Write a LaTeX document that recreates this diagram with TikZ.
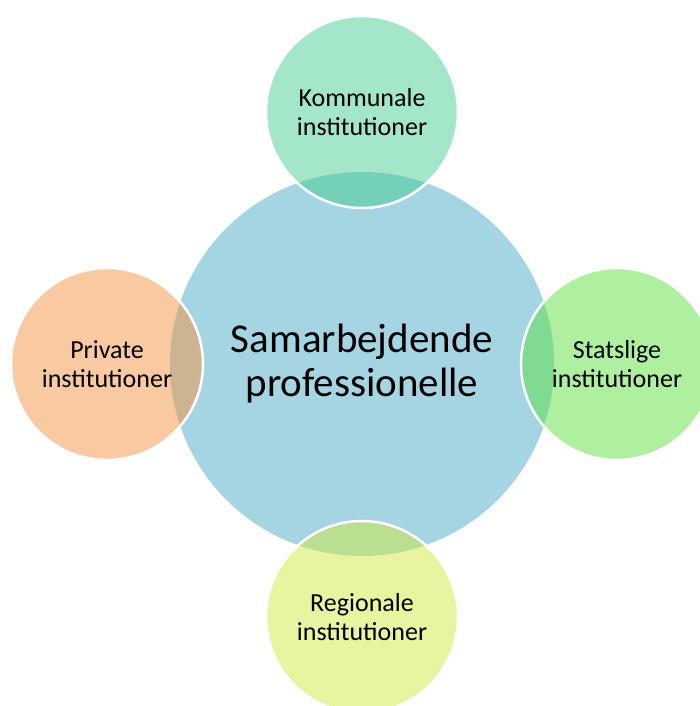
\documentclass[tikz,border=0pt]{standalone}
\usepackage{fontspec}
\setmainfont{Carlito}
\usepackage{tikz}

\definecolor{centreblue}{RGB}{165,213,227}
\definecolor{kommgreen}{RGB}{71,205,145}
\definecolor{statgreen}{RGB}{93,223,65}
\definecolor{privorange}{RGB}{243,147,67}
\definecolor{regyellow}{RGB}{209,233,65}

\begin{document}
\begin{tikzpicture}[x=1pt,y=-1pt,
	small/.style={circle, draw=white, line width=2.5pt, fill opacity=0.5, text opacity=1, minimum size=192pt, inner sep=0pt, align=center, font=\fontsize{26}{29}\selectfont}]
\useasboundingbox (0,0) rectangle (699,706);
\node [circle, fill=centreblue, minimum size=384pt, inner sep=0pt, align=center, font=\fontsize{41}{44}\selectfont] (sam) at (362,364) {Samarbejdende\\professionelle};
\node [small, fill=kommgreen] (komm) at (362,112) {Kommunale\\institutioner};
\node [small, fill=statgreen] (stat) at (617,364) {Statslige\\institutioner};
\node [small, fill=privorange] (priv) at (107,364) {Private\\institutioner};
\node [small, fill=regyellow] (reg) at (362,617) {Regionale\\institutioner};
\end{tikzpicture}
\end{document}
